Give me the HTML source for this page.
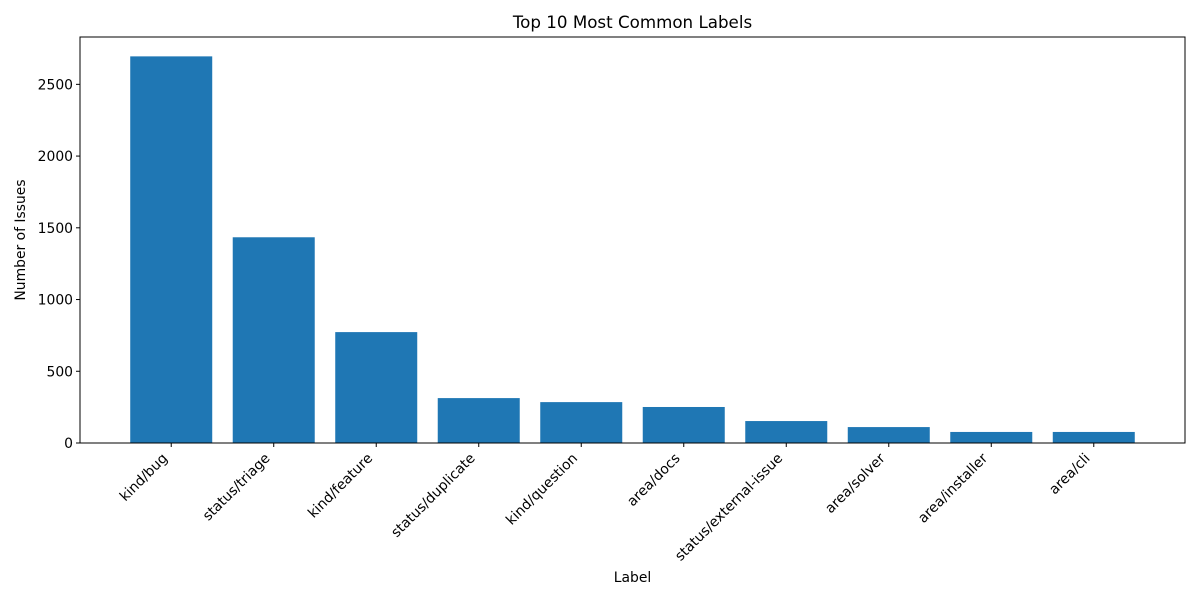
<!DOCTYPE html>
<html><head><meta charset="utf-8"><style>
body{margin:0;background:#fff;}
svg text{font-family:"DejaVu Sans","Liberation Sans",sans-serif;fill:#000;}
</style></head><body>
<svg id="chart" width="1200" height="600" xmlns="http://www.w3.org/2000/svg">
<rect width="1200" height="600" fill="#fff"/>
<text x="632.5" y="28" font-size="16.7" text-anchor="middle">Top 10 Most Common Labels</text>
<text transform="translate(25,240) rotate(-90)" font-size="13.9" text-anchor="middle">Number of Issues</text>
<text x="632.5" y="582" font-size="13.9" text-anchor="middle">Label</text>
<g id="marks"></g>
<rect x="80" y="37" width="1105" height="406" fill="none" stroke="#000" stroke-width="1"/>
</svg>
<script>
const categories = ["kind/bug","status/triage","kind/feature","status/duplicate","kind/question","area/docs","status/external-issue","area/solver","area/installer","area/cli"];
const values = [2695,1434,773,313,285,251,153,111,77,77];
const yTicks = [0,500,1000,1500,2000,2500];

const L=80,R=1185,T=37,B=443;
const xMin=-0.89,xMax=categories.length-1+0.89;
const yMax=2830;
const xs=v=>L+(v-xMin)/(xMax-xMin)*(R-L);
const ys=v=>B-v/yMax*(B-T);
const NS="http://www.w3.org/2000/svg";
const g=document.getElementById('marks');
function mk(t,a){const e=document.createElementNS(NS,t);for(const k in a)e.setAttribute(k,a[k]);return e;}
values.forEach((v,i)=>{
  const x0=xs(i-0.4),x1=xs(i+0.4);
  const r=mk('rect',{x:x0,y:ys(v),width:x1-x0,height:B-ys(v),fill:'#1f77b4'});
  
  
  g.appendChild(r);
  const cx=xs(i);
  const tk=mk('line',{x1:cx,x2:cx,y1:B,y2:B+4,stroke:'#000'});
  
  
  g.appendChild(tk);
  const t=mk('text',{transform:`translate(${cx-3},${B+16}) rotate(-45)`,'font-size':13.9,'text-anchor':'end'});
  
  
  t.textContent=categories[i];
  g.appendChild(t);
});
yTicks.forEach(v=>{
  const y=ys(v);
  const tk=mk('line',{x1:L-4,x2:L,y1:y,y2:y,stroke:'#000'});
  
  
  g.appendChild(tk);
  const t=mk('text',{x:L-7,y:y+5,'font-size':13.9,'text-anchor':'end'});
  
  
  t.textContent=v;
  g.appendChild(t);
});
</script>
</body></html>
